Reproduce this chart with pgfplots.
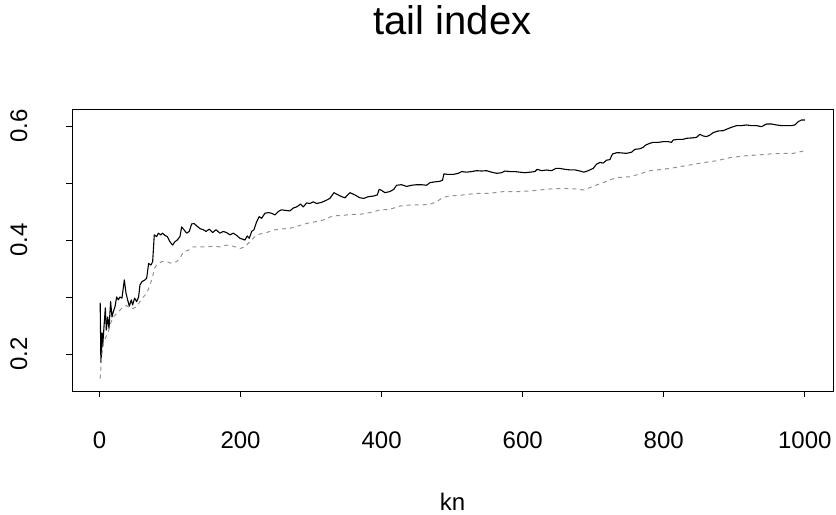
\documentclass[border=0pt]{standalone}
\usepackage{fontspec}
\setmainfont{Liberation Sans}
\usepackage{pgfplots}
\pgfplotsset{compat=1.18}
\definecolor{dashgray}{HTML}{929292}
\begin{document}
\begin{tikzpicture}
\useasboundingbox (-72bp,-124bp) rectangle (764bp,391bp);
\begin{axis}[
  at={(0,0)}, anchor=south west,
  scale only axis, width=761bp, height=282bp,
  xmin=-38.96, xmax=1039.96, ymin=0.1351, ymax=0.6298,
  axis line style={line width=0.9bp},
  tick style={line width=0.9bp, black},
  tick align=outside, tick pos=left,
  major tick length=6bp,
  xtick={0,200,400,600,800,1000}, xticklabels={0,200,400,600,800,1000},
  ytick={0.2,0.3,0.4,0.5,0.6}, yticklabels={0.2,,0.4,,0.6},
  ticklabel style={font=\fontsize{24bp}{28bp}\selectfont, inner sep=0pt},
  xticklabel style={anchor=base},
  xticklabel shift=51bp,
  yticklabel style={rotate=90, anchor=base},
  yticklabel shift=39bp,
  title={tail index},
  title style={at={(axis description cs:0.5,1)}, anchor=base, yshift=69bp, inner sep=0pt, font=\fontsize{40bp}{48bp}\selectfont},
  xlabel={kn},
  xlabel style={at={(axis description cs:0.5,0)}, anchor=base, yshift=-119.5bp, inner sep=0pt, font=\fontsize{24bp}{28bp}\selectfont},
]
\addplot[black, line width=1.1bp, line join=round] coordinates {
(1,0.290) (2,0.185) (3,0.207) (3.5,0.237) (4.5,0.213) (6.4,0.248) (8.3,0.281) (9.7,0.242)
(11.6,0.265) (13.5,0.245) (15.8,0.292) (17.7,0.265) (19.6,0.274) (22,0.283) (24.3,0.300)
(26.7,0.295) (29,0.300) (31.9,0.298) (35.2,0.330) (37.6,0.307) (39.9,0.295) (42.3,0.284)
(45.1,0.295) (47,0.286) (49.8,0.298) (52.7,0.292) (55.5,0.300) (57.4,0.321) (60.2,0.327)
(64.5,0.330) (66.9,0.333) (69.7,0.359) (73,0.356) (75.4,0.362) (77.7,0.409) (81,0.406)
(83.4,0.412) (86.7,0.409) (89.5,0.412) (92.8,0.408) (96.1,0.406) (99.9,0.397) (103.7,0.391)
(107,0.397) (110.3,0.400) (114.1,0.406) (116.5,0.423) (119.8,0.418) (123.6,0.412) (127.3,0.415)
(130.6,0.428) (134,0.429) (137.7,0.425) (142.5,0.420) (147.2,0.418) (151,0.415) (155.7,0.419)
(160.4,0.413) (165.1,0.418) (170.8,0.412) (175.5,0.415) (180.3,0.413) (185,0.409) (189.7,0.412)
(194.5,0.408) (199.2,0.403) (206.2,0.400) (209.5,0.407) (212.4,0.403) (215.7,0.415) (219,0.418)
(222.8,0.432) (226.5,0.441) (229.9,0.438) (234.6,0.447) (239.3,0.448) (244,0.447) (248.8,0.444)
(253.5,0.450) (258.2,0.453) (262.9,0.452) (270,0.451) (274.7,0.456) (279.5,0.458) (285.1,0.463)
(288.9,0.458) (293.6,0.465) (298.4,0.464) (303.1,0.467) (307.8,0.464) (314.9,0.466) (322,0.470)
(326.7,0.473) (332.4,0.483) (338.5,0.479) (343.3,0.476) (348,0.474) (355.1,0.483) (362.2,0.479)
(369.2,0.474) (374.9,0.473) (381,0.476) (388.1,0.477) (393.8,0.479) (396.6,0.489) (400,0.487)
(404.7,0.483) (411.8,0.485) (417.4,0.489) (421.2,0.496) (428.3,0.497) (435.4,0.494) (442.5,0.496)
(449.6,0.497) (456.7,0.497) (463.7,0.496) (468.5,0.5006) (475.6,0.502) (482.6,0.503) (486.4,0.505)
(488.3,0.516) (494.4,0.515) (501.5,0.515) (508.6,0.517) (513.3,0.520) (520.4,0.519) (527.5,0.520)
(534.6,0.5216) (541.7,0.521) (548.8,0.5216) (555.9,0.519) (563,0.517) (570,0.518) (574.8,0.521)
(581.9,0.520) (588.9,0.520) (596,0.519) (603.1,0.518) (610.2,0.519) (617.3,0.520) (620.6,0.524)
(626.7,0.5216) (633.8,0.5228) (640.9,0.5216) (647.1,0.5256) (652.7,0.5256) (659.8,0.524) (666.9,0.523)
(674,0.523) (681.1,0.521) (686.7,0.519) (692.9,0.5216) (700,0.5256) (704.7,0.533) (709.4,0.536)
(714.2,0.535) (718.9,0.540) (723.6,0.541) (727.4,0.551) (733,0.553) (737.8,0.553) (747.2,0.552)
(754.3,0.554) (759,0.559) (766.1,0.560) (770.8,0.5626) (774.6,0.5667) (780.3,0.5696) (785,0.5713)
(792.1,0.5713) (799.2,0.5725) (806.3,0.5725) (811,0.5713) (813.4,0.5754) (820.5,0.5766) (827.5,0.5766)
(832.3,0.5784) (839.4,0.579) (846.4,0.580) (851.2,0.5854) (855.9,0.5825) (860.6,0.5813) (865.3,0.584)
(870.1,0.5883) (877.1,0.5912) (884.2,0.5918) (888.9,0.5942) (896,0.5977) (903.1,0.6006) (910.2,0.6006)
(917.3,0.6018) (924.4,0.6006) (931.5,0.6006) (938.6,0.5988) (945.7,0.6035) (952.8,0.6035) (959.8,0.6018)
(966.9,0.6006) (974,0.6006) (981.1,0.6006) (985.8,0.6018) (990.6,0.6076) (995.3,0.6105) (1000,0.6105)
};
\addplot[dashgray, line width=1bp, dash pattern=on 4bp off 4bp] coordinates {
(1,0.157) (3,0.195) (5.4,0.219) (9.2,0.230) (12.5,0.239) (15.8,0.254) (19.6,0.265) (24.3,0.271)
(29,0.277) (33.8,0.283) (38.5,0.285) (43.2,0.280) (48,0.280) (52.7,0.283) (57.4,0.292) (62.1,0.300)
(66.9,0.306) (71.6,0.321) (75.4,0.336) (77.7,0.350) (81,0.356) (88.1,0.362) (95.2,0.362) (102.3,0.359)
(109.4,0.362) (114.1,0.368) (118.8,0.379) (125.9,0.382) (133,0.388) (142.5,0.388) (151.9,0.388)
(161.3,0.389) (170.8,0.388) (180.3,0.391) (189.7,0.389) (199.2,0.385) (206.2,0.388) (213.3,0.397)
(220.4,0.406) (227.5,0.4105) (236.9,0.413) (246.4,0.4175) (255.8,0.419) (270,0.4205) (281.8,0.4246)
(293.6,0.429) (305.5,0.432) (317.3,0.435) (331.5,0.4426) (343.3,0.4426) (355.1,0.445) (369.2,0.445)
(383.4,0.448) (397.6,0.4526) (411.8,0.4538) (425.9,0.4596) (440.1,0.4614) (454.3,0.4614) (468.5,0.4626)
(477.9,0.467) (487.3,0.475) (496.8,0.4772) (515.7,0.479) (534.6,0.482) (553.5,0.482) (572.4,0.4848)
(591.3,0.4848) (610.2,0.486) (624.3,0.4877) (638.5,0.4895) (657.4,0.4906) (676.3,0.4895) (686.7,0.4877)
(695.2,0.4918) (704.7,0.4965) (714.2,0.5006) (723.6,0.5053) (733,0.5094) (752,0.511) (766.1,0.5158)
(780.3,0.5216) (799.2,0.524) (818.1,0.5275) (837,0.5316) (855.9,0.5356) (874.8,0.539) (893.7,0.5444)
(912.6,0.5474) (931.5,0.549) (950.4,0.5509) (969.3,0.552) (983.5,0.552) (1000,0.5567)
};
\end{axis}
\end{tikzpicture}
\end{document}
